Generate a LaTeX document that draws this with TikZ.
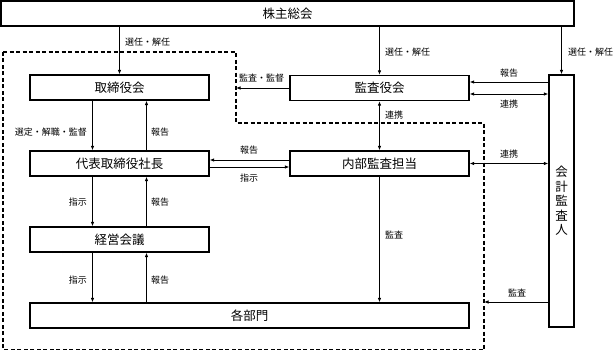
\documentclass[tikz,border=0pt]{standalone}
\usepackage{fontspec}
\setmainfont{Noto Sans CJK JP}
\usetikzlibrary{arrows.meta,calc}
\begin{document}
\begin{tikzpicture}[x=1pt,y=-1pt,
  box/.style={draw, line width=1.2pt, minimum height=25pt, inner sep=0pt, font=\fontsize{12.5}{14}\selectfont},
  lbl/.style={font=\fontsize{9}{10}\selectfont, inner sep=0pt},
  arr/.style={-{Latex[length=4.5pt,width=3.5pt]}, line width=0.9pt},
  darr/.style={{Latex[length=4.5pt,width=3.5pt]}-{Latex[length=4.5pt,width=3.5pt]}, line width=0.9pt},
  bound/.style={dash pattern=on 4pt off 2.5pt, line width=1.2pt}]
\useasboundingbox (0,0) rectangle (614,351);

% boxes
\node[box, minimum width=573pt] (kabu) at (287.5,13.5) {株主総会};
\node[box, minimum width=179pt] (tori) at (119.5,87.5) {取締役会};
\node[box, minimum width=179pt] (daihyo) at (119.5,163.5) {代表取締役社長};
\node[box, minimum width=179pt] (keiei) at (119.5,239.5) {経営会議};
\node[box, minimum width=439pt] (kakubu) at (249.5,315.5) {各部門};
\node[box, minimum width=179pt] (kansa) at (379.5,88) {監査役会};
\node[box, minimum width=179pt] (naibu) at (379.5,163.5) {内部監査担当};
\node[box, minimum width=25pt, minimum height=252pt, align=center, font=\fontsize{12.5}{14.5}\selectfont] (kaikei) at (561.5,201) {会\\計\\監\\査\\人};

% dashed boundary
\coordinate (d1) at (3,52);
\coordinate (d2) at (236,52);
\coordinate (d3) at (236,123);
\coordinate (d4) at (484,123);
\coordinate (d5) at (484,349.5);
\coordinate (d6) at (3,349.5);
\draw[bound] (d1) -- (d2) -- (d3) -- (d4) -- (d5) -- (d6) -- cycle;
\coordinate (kb) at (236,88);
\coordinate (kb2) at (484,302);

% arrows from shareholders
\draw[arr] (kabu.south -| tori) -- (tori.north);
\draw[arr] (kabu.south -| kansa) -- (kansa.north);
\draw[arr] (kabu.south -| kaikei) -- (kaikei.north);

% left column
\draw[arr] ($(tori.south)+(-27,0)$) -- ($(daihyo.north)+(-27,0)$);
\draw[arr] ($(daihyo.north)+(27,0)$) -- ($(tori.south)+(27,0)$);
\draw[arr] ($(daihyo.south)+(-27,0)$) -- ($(keiei.north)+(-27,0)$);
\draw[arr] ($(keiei.north)+(27,0)$) -- ($(daihyo.south)+(27,0)$);
\draw[arr] ($(keiei.south)+(-27,0)$) -- ($(keiei.south |- kakubu.north)+(-27,0)$);
\draw[arr] ($(keiei.south |- kakubu.north)+(27,0)$) -- ($(keiei.south)+(27,0)$);

% internal audit <-> president
\draw[arr] ($(naibu.west)+(0,-3.5)$) -- ($(daihyo.east)+(0,-3.5)$);
\draw[arr] ($(daihyo.east)+(0,3.5)$) -- ($(naibu.west)+(0,3.5)$);

% middle column
\draw[darr] (kansa.south) -- (naibu.north);
\draw[arr] (naibu.south) -- (naibu.south |- kakubu.north);
\draw[arr] (kansa.west) -- (kb);

% accounting auditor
\draw[arr] ($(kaikei.west |- kansa.east)+(0,-6)$) -- ($(kansa.east)+(0,-6)$);
\draw[darr] ($(kansa.east)+(0,6)$) -- ($(kaikei.west |- kansa.east)+(0,6)$);
\draw[darr] (naibu.east) -- (naibu.east -| kaikei.west);
\draw[arr] (kb2 -| kaikei.west) -- (kb2);

% labels
\node[lbl, anchor=west] (l1) at (125,42) {選任・解任};
\node[lbl, anchor=west] (l2) at (385,52) {選任・解任};
\node[lbl, anchor=west] (l3) at (568,52) {選任・解任};
\node[lbl, anchor=west] (l4) at (239,78) {監査・監督};
\node[lbl] (l5) at (509,73) {報告};
\node[lbl] (l6) at (509,104) {連携};
\node[lbl, anchor=west] (l7) at (385,115) {連携};
\node[lbl] (l8) at (509,154) {連携};
\node[lbl] (l9) at (249,150) {報告};
\node[lbl] (l10) at (249,178) {指示};
\node[lbl, anchor=east] (l11) at (87,132) {選定・解職・監督};
\node[lbl, anchor=west] (l12) at (151,132) {報告};
\node[lbl, anchor=east] (l13) at (87,202) {指示};
\node[lbl, anchor=west] (l14) at (151,202) {報告};
\node[lbl, anchor=east] (l15) at (87,280) {指示};
\node[lbl, anchor=west] (l16) at (151,280) {報告};
\node[lbl, anchor=west] (l17) at (385,235) {監査};
\node[lbl] (l18) at (517,293) {監査};
\end{tikzpicture}
\end{document}
